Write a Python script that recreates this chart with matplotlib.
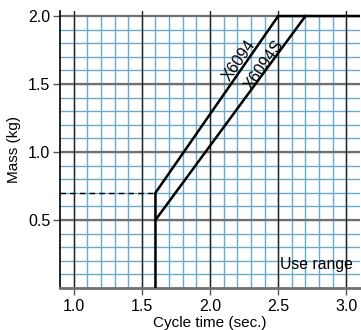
import matplotlib
matplotlib.use("Agg")
import matplotlib.pyplot as plt
import numpy as np

plt.rcParams['font.family'] = ['Liberation Sans', 'DejaVu Sans']

# Cycle time (sec.) vs. transportable mass (kg)
x6094_time = [1.6, 1.6, 2.5, 3.1]
x6094_mass = [0.0, 0.7, 2.0, 2.0]
x6094s_time = [1.6, 2.7]
x6094s_mass = [0.5, 2.0]
dash_time = [0.9, 1.6]
dash_mass = [0.7, 0.7]

x_ticks = [1.0, 1.5, 2.0, 2.5, 3.0]
x_tick_labels = ["1.0", "1.5", "2.0", "2.5", "3.0"]
y_ticks = [0.5, 1.0, 1.5, 2.0]
y_tick_labels = ["0.5", "1.0", "1.5", "2.0"]

series_names = ["X6094", "X6094S"]
range_label = "Use range"

XMIN, XMAX = 0.9, 3.1
YMIN, YMAX = 0.0, 2.04
GRID_TOP = 2.0

fig = plt.figure(figsize=(3.61, 3.30), dpi=100)
ax = fig.add_axes([60 / 361, 42 / 330, 300 / 361, 277.4 / 330])
ax.set_xlim(XMIN, XMAX)
ax.set_ylim(YMIN, YMAX)

blue = '#6aa9c8'
# fine grid every 0.1
for xv in np.arange(1.0, 3.1, 0.1):
    ax.plot([xv, xv], [YMIN, GRID_TOP], color=blue, lw=1.0, zorder=1)
for yv in np.arange(0.1, 2.0, 0.1):
    ax.plot([XMIN, XMAX], [yv, yv], color=blue, lw=1.0, zorder=1)

# major lines
for yv in y_ticks:
    ax.axhline(yv, color='#707070', lw=1.6, zorder=2)
for xv in x_ticks:
    ax.axvline(xv, color='#222222', lw=1.0, zorder=2)

# characteristic curves
ax.plot(x6094_time, x6094_mass, color='black', lw=1.8, zorder=4,
        solid_joinstyle='miter')
ax.plot(x6094s_time, x6094s_mass, color='black', lw=1.8, zorder=4)
ax.plot(dash_time, dash_mass, color='black', lw=1.0, ls=(0, (4, 3)), zorder=4)

ang = np.degrees(np.arctan(1.3 / 0.9 * (277.4 / 2.04) / (300 / 2.2)))
ax.text(2.21, 1.67, series_names[0], rotation=ang, rotation_mode='anchor',
        ha='center', va='center', fontsize=11.5, zorder=5)
ax.text(2.4, 1.64, series_names[1], rotation=ang, rotation_mode='anchor',
        ha='center', va='center', fontsize=11.5, zorder=5)
ax.text(3.05, 0.17, range_label, ha='right', va='center', fontsize=11.3, zorder=5)

ax.set_xticks(x_ticks)
ax.set_xticklabels(x_tick_labels)
ax.set_yticks(y_ticks)
ax.set_yticklabels(y_tick_labels)
ax.tick_params(axis='both', direction='out', length=5, width=1.0,
               labelsize=11.5, color='#555555')
ax.tick_params(axis='x', pad=3)
ax.tick_params(axis='y', pad=2)

for s in ['top', 'right']:
    ax.spines[s].set_visible(False)
ax.spines['left'].set_color('black')
ax.spines['left'].set_linewidth(1.2)
ax.spines['bottom'].set_color('#707070')
ax.spines['bottom'].set_linewidth(2.0)

ax.set_xlabel("Cycle time (sec.)", fontsize=11, labelpad=1)
ax.set_ylabel("Mass (kg)", fontsize=11, labelpad=5)

fig.savefig("out.png", dpi=100)
